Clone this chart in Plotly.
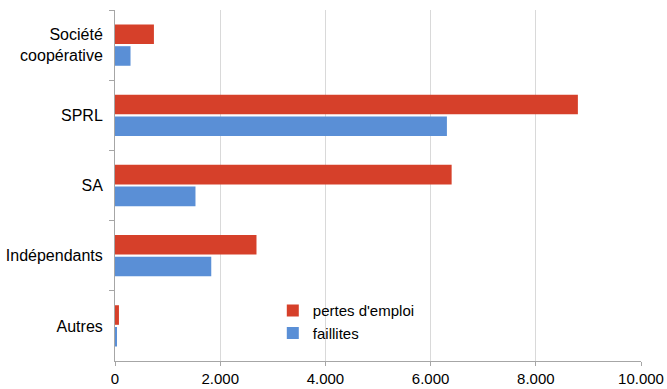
import plotly.graph_objects as go

categories = ["Société<br>coopérative", "SPRL", "SA", "Indépendants", "Autres"]
pertes_emploi = [740, 8800, 6400, 2690, 75]
faillites = [295, 6310, 1530, 1830, 30]
x_ticks = [0, 2000, 4000, 6000, 8000, 10000]

RED = "#D6402A"
BLUE = "#5A8FD6"

fig = go.Figure()
fig.add_trace(go.Bar(y=categories, x=pertes_emploi, orientation="h", name="pertes d'emploi",
                     marker=dict(color=RED, line=dict(width=0))))
fig.add_trace(go.Bar(y=categories, x=faillites, orientation="h", name="faillites",
                     marker=dict(color=BLUE, line=dict(width=0))))

fig.update_layout(
    width=667, height=389,
    margin=dict(l=115, r=26, t=10, b=28),
    paper_bgcolor="white", plot_bgcolor="white",
    separators=",.",
    barmode="group", bargap=0.38, bargroupgap=0.1,
    font=dict(family="Liberation Sans, Arial, sans-serif", size=16, color="#000000"),
    legend=dict(x=0.30, y=0.19, xanchor="left", yanchor="top", bgcolor="rgba(0,0,0,0)",
                font=dict(size=15), tracegroupgap=0, itemwidth=30),
    showlegend=True,
)
fig.update_xaxes(range=[0, 10000], tickvals=x_ticks, tickformat=",d",
                 tickfont=dict(size=15),
                 showgrid=True, gridcolor="#D9D9D9", gridwidth=1,
                 showline=True, linecolor="#A6A6A6", linewidth=1,
                 ticks="outside", ticklen=4, tickcolor="#A6A6A6", ticklabelstandoff=0,
                 zeroline=False, automargin=False)
fig.update_yaxes(autorange="reversed", showgrid=False,
                 showline=True, linecolor="#A6A6A6", linewidth=1,
                 ticks="outside", ticklen=5, tickcolor="#A6A6A6", tickson="boundaries",
                 ticklabelstandoff=8, zeroline=False, automargin=False)

fig.write_html("out.html")
